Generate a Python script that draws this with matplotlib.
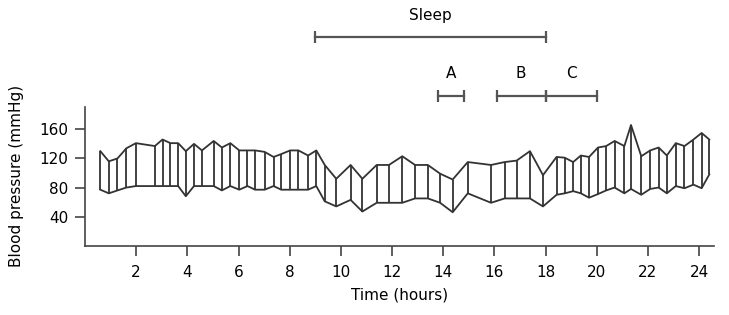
import matplotlib
matplotlib.use('Agg')
import matplotlib.pyplot as plt

# measurement times (hours) and readings (mmHg)
times = [0.6, 0.93, 1.27, 1.62, 1.99, 2.73, 3.03, 3.34, 3.64, 3.94,
         4.26, 4.57, 5.03, 5.35, 5.68, 6.03, 6.35, 6.65, 7.02, 7.37,
         7.67, 8.02, 8.34, 8.72, 9.04, 9.37, 9.82, 10.38, 10.84, 11.4,
         11.88, 12.4, 12.9, 13.4, 13.88, 14.37, 14.96, 15.87, 16.4, 16.87,
         17.39, 17.9, 18.43, 18.75, 19.08, 19.38, 19.7, 20.05, 20.37, 20.7,
         21.08, 21.34, 21.74, 22.09, 22.42, 22.74, 23.09, 23.43, 23.78, 24.1,
         24.4]
systolic = [130, 116, 120, 134, 141, 137, 146, 141, 141, 130,
            140, 131, 144, 135, 141, 131, 131, 131, 129, 122,
            126, 131, 131, 124, 131, 111, 92, 111, 92, 111,
            111, 123, 111, 111, 99, 91, 115, 111, 115, 117,
            130, 97, 122, 121, 115, 124, 122, 135, 137, 144,
            137, 166, 123, 131, 135, 124, 141, 137, 146, 155,
            146]
diastolic = [77, 72, 76, 80, 82, 82, 82, 82, 82, 68,
             82, 82, 82, 76, 82, 77, 82, 77, 77, 82,
             77, 77, 77, 77, 82, 61, 54, 63, 47, 59,
             59, 59, 65, 65, 59, 46, 72, 59, 65, 65,
             65, 54, 70, 72, 75, 72, 66, 71, 76, 80,
             72, 78, 70, 78, 80, 72, 82, 79, 84, 79,
             98]

xticks = [2, 4, 6, 8, 10, 12, 14, 16, 18, 20, 22, 24]
yticks = [40, 80, 120, 160]

# periods shown above the plot: (label, start, end)
sleep = ('Sleep', 9, 18)
periods = [('A', 13.8, 14.8), ('B', 16.1, 18), ('C', 18, 20)]

col = '#333333'
fs = 11
fig = plt.figure(figsize=(7.29, 3.15), dpi=100)
ax = fig.add_axes([0.1166, 0.22, 0.8634, 0.441])

ax.vlines(times, diastolic, systolic, color=col, lw=1.3)
ax.plot(times, systolic, color=col, lw=1.3)
ax.plot(times, diastolic, color=col, lw=1.3)

ax.set_xlim(0, 24.6)
ax.set_ylim(0, 191)
ax.set_xticks(xticks)
ax.set_yticks(yticks)
ax.spines['top'].set_visible(False)
ax.spines['right'].set_visible(False)
for s in ['left', 'bottom']:
    ax.spines[s].set_color('#444444')
    ax.spines[s].set_linewidth(1.2)
ax.tick_params(axis='x', length=7, width=1.2, pad=7, color='#444444', labelsize=fs)
ax.tick_params(axis='y', length=7, width=1.2, pad=5, color='#444444', labelsize=fs)
ax.set_xlabel('Time (hours)', fontsize=fs, labelpad=5)
ax.set_ylabel('Blood pressure (mmHg)', fontsize=fs, labelpad=11)

# sleep bar and sub-periods
bar_col = '#555555'
ax.plot([sleep[1], sleep[2]], [287, 287], color=bar_col, lw=1.6, clip_on=False)
ax.plot([sleep[1], sleep[2]], [287, 287], ls='none', marker='|', ms=9, mew=1.6,
        color=bar_col, clip_on=False)
ax.text((sleep[1] + sleep[2]) / 2, 317, sleep[0], ha='center', va='center', fontsize=fs)
for lab, a, b in periods:
    ax.plot([a, b], [206, 206], color=bar_col, lw=1.6, clip_on=False)
    ax.plot([a, b], [206, 206], ls='none', marker='|', ms=8, mew=1.6,
            color=bar_col, clip_on=False)
    ax.text((a + b) / 2, 237, lab, ha='center', va='center', fontsize=fs)

fig.savefig('out.png', dpi=100)
